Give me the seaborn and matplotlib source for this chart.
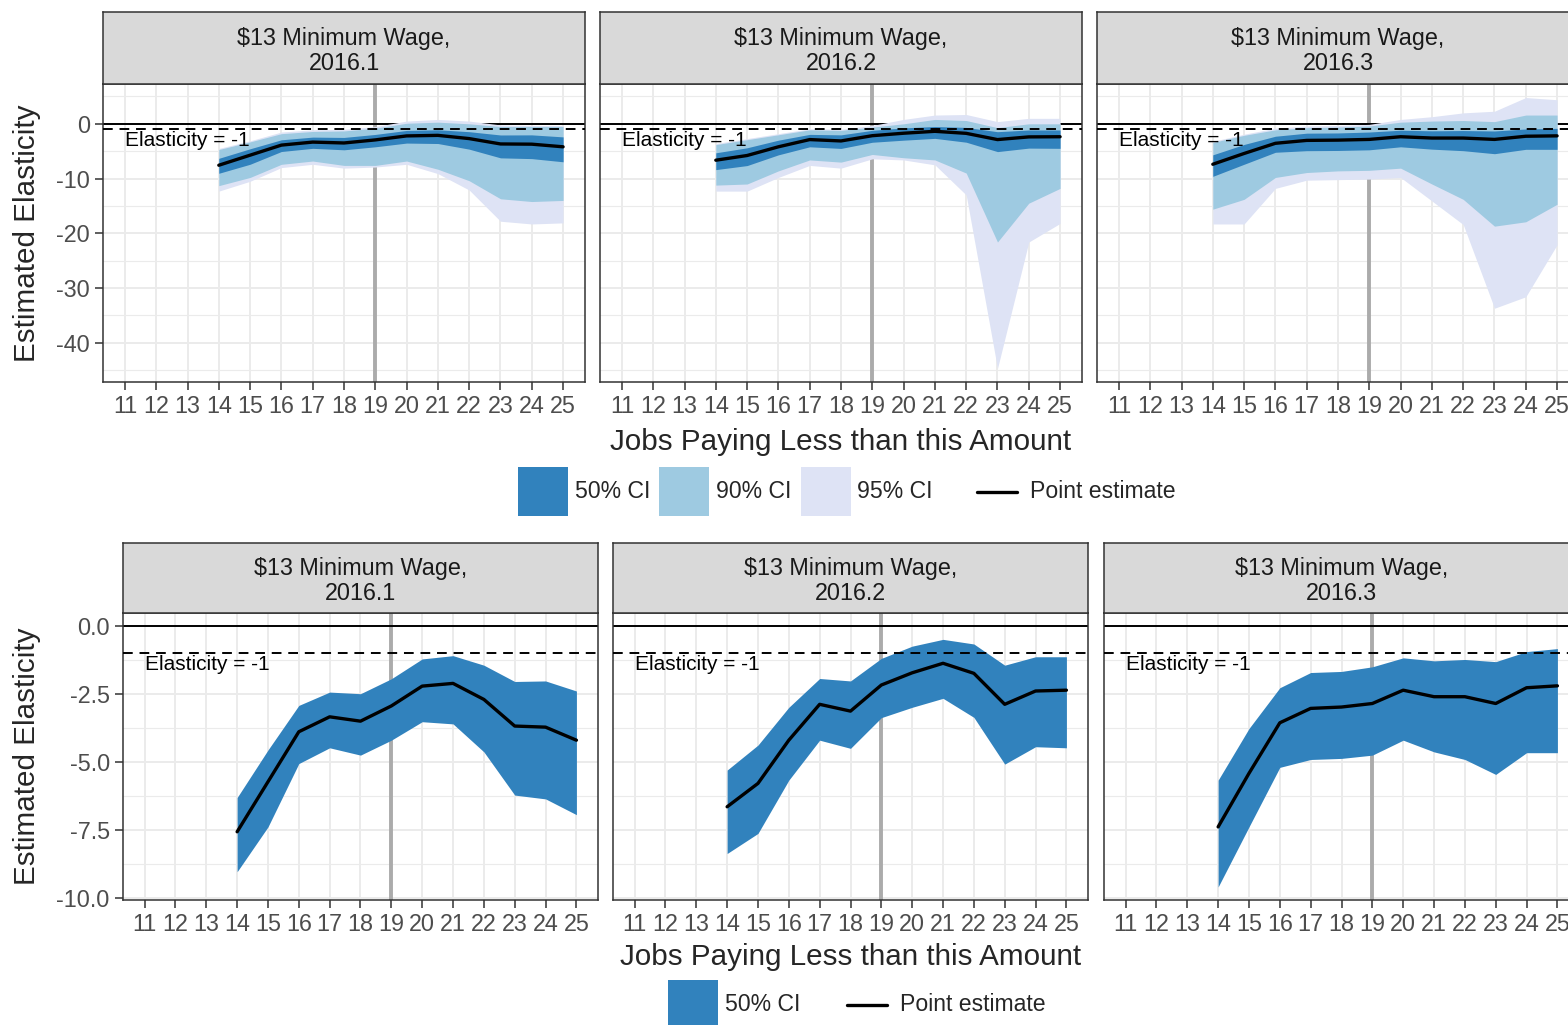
import numpy as np
import pandas as pd
import matplotlib
matplotlib.use("Agg")
import matplotlib.pyplot as plt
from matplotlib.patches import Patch
from matplotlib.lines import Line2D
from matplotlib.legend_handler import HandlerLine2D
from matplotlib.ticker import FuncFormatter
import seaborn as sns

# ---------------------------------------------------------------- data
wages = [14, 15, 16, 17, 18, 19, 20, 21, 22, 23, 24, 25]
quarters = ["2016.1", "2016.2", "2016.3"]
strip_title = "\\$13 Minimum Wage,\n{}"
x_title = "Jobs Paying Less than this Amount"
y_title = "Estimated Elasticity"
ref_label = "Elasticity = -1"
ref_value = -1
cutoff_wage = 19

est_q1 = [-7.57, -5.73, -3.89, -3.34, -3.50, -2.94, -2.21, -2.11, -2.70, -3.68, -3.72, -4.20]
lo50_q1 = [-9.04, -7.39, -5.06, -4.48, -4.75, -4.20, -3.52, -3.60, -4.63, -6.22, -6.36, -6.94]
hi50_q1 = [-6.31, -4.56, -2.92, -2.43, -2.49, -1.94, -1.21, -1.09, -1.44, -2.04, -2.02, -2.39]
lo90_q1 = [-11.3, -9.8, -7.4, -6.8, -7.6, -7.6, -6.8, -8.3, -10.4, -13.7, -14.2, -14.0]
hi90_q1 = [-4.7, -3.3, -1.8, -1.4, -1.3, -0.8, 0.1, 0.3, 0.0, -0.5, -0.5, -0.5]
lo95_q1 = [-12.3, -10.5, -8.0, -7.4, -8.1, -7.9, -7.4, -9.1, -12.1, -17.8, -18.3, -18.1]
hi95_q1 = [-4.5, -3.1, -1.5, -1.1, -1.0, -0.5, 0.5, 0.8, 0.5, -0.2, -0.3, -0.3]

est_q2 = [-6.65, -5.79, -4.20, -2.88, -3.13, -2.17, -1.72, -1.37, -1.74, -2.88, -2.39, -2.36]
lo50_q2 = [-8.37, -7.63, -5.67, -4.20, -4.50, -3.37, -2.99, -2.66, -3.36, -5.08, -4.44, -4.48]
hi50_q2 = [-5.30, -4.38, -2.99, -1.93, -2.02, -1.19, -0.74, -0.49, -0.66, -1.44, -1.13, -1.13]
lo90_q2 = [-11.2, -11.0, -8.6, -6.6, -7.0, -5.6, -6.2, -6.6, -9.0, -21.6, -14.5, -11.8]
hi90_q2 = [-3.8, -2.9, -2.0, -1.1, -1.2, -0.6, 0.0, 0.8, 0.6, -0.7, 0.0, 0.0]
lo95_q2 = [-12.3, -12.3, -9.8, -7.6, -8.1, -6.4, -6.6, -7.5, -13.0, -44.7, -21.6, -18.2]
hi95_q2 = [-3.6, -2.7, -1.8, -0.9, -1.0, -0.3, 0.8, 1.6, 1.7, 0.4, 1.0, 1.0]

est_q3 = [-7.39, -5.42, -3.56, -3.03, -2.98, -2.85, -2.36, -2.60, -2.60, -2.85, -2.27, -2.20]
lo50_q3 = [-9.60, -7.39, -5.20, -4.91, -4.87, -4.75, -4.20, -4.63, -4.91, -5.46, -4.66, -4.66]
hi50_q3 = [-5.67, -3.77, -2.27, -1.71, -1.67, -1.50, -1.17, -1.28, -1.23, -1.31, -0.94, -0.83]
lo90_q3 = [-15.6, -13.8, -9.8, -8.9, -8.6, -8.5, -8.1, -11.0, -13.8, -18.7, -17.9, -14.7]
hi90_q3 = [-3.4, -2.1, -1.1, -0.7, -0.6, -0.4, 0.3, 0.5, 0.6, 0.4, 1.6, 1.6]
lo95_q3 = [-18.3, -18.3, -11.8, -10.3, -10.2, -10.1, -9.8, -14.1, -18.4, -33.7, -31.6, -22.1]
hi95_q3 = [-3.2, -1.9, -0.8, -0.4, -0.3, -0.1, 0.8, 1.3, 2.0, 2.3, 4.8, 4.4]

frames = []
for q, cols in zip(quarters, [
        (est_q1, lo50_q1, hi50_q1, lo90_q1, hi90_q1, lo95_q1, hi95_q1),
        (est_q2, lo50_q2, hi50_q2, lo90_q2, hi90_q2, lo95_q2, hi95_q2),
        (est_q3, lo50_q3, hi50_q3, lo90_q3, hi90_q3, lo95_q3, hi95_q3)]):
    frames.append(pd.DataFrame({
        "quarter": q, "wage": wages, "est": cols[0],
        "lo50": cols[1], "hi50": cols[2], "lo90": cols[3],
        "hi90": cols[4], "lo95": cols[5], "hi95": cols[6]}))
df = pd.concat(frames, ignore_index=True)

# ---------------------------------------------------------------- style
sns.set_theme(style="whitegrid")
plt.rcParams["font.family"] = ["Liberation Sans", "DejaVu Sans"]

C50, C90, C95 = "#3182BD", "#9ECAE1", "#DEE3F5"
GRID = "#EBEBEB"
BORDER = "#333333"
TICKTXT = "#4D4D4D"
BASE = 21.3
SMALL = 16.8

W, H = 1568, 1025
fig = plt.figure(figsize=(W / 100, H / 100), dpi=100)
fig.patch.set_facecolor("white")


def box(left, top, right, bottom):
    return fig.add_axes([left / W, 1 - bottom / H, (right - left) / W, (bottom - top) / H])


def style_panel(ax):
    for s in ax.spines.values():
        s.set_visible(True)
        s.set_color(BORDER)
        s.set_linewidth(1.1)
    ax.set_facecolor("white")
    ax.set_axisbelow(True)
    ax.grid(False)
    ax.grid(which="major", color=GRID, lw=1.4)
    ax.grid(which="minor", axis="y", color=GRID, lw=0.8)
    ax.tick_params(which="major", length=6, width=1.1, color=BORDER,
                   labelcolor=TICKTXT, labelsize=SMALL, pad=3.5,
                   bottom=True, left=True)
    ax.tick_params(which="minor", length=0)


def strip(left, top, right, bottom, text):
    sa = box(left, top, right, bottom)
    sa.set_facecolor("#D9D9D9")
    sa.set_xticks([])
    sa.set_yticks([])
    sa.grid(False)
    for s in sa.spines.values():
        s.set_visible(True)
        s.set_color(BORDER)
        s.set_linewidth(1.1)
    sa.annotate(text, xy=(0.5, 0.5), xycoords="axes fraction",
                xytext=(0, -3), textcoords="offset pixels",
                ha="center", va="center", fontsize=SMALL,
                color="#1A1A1A", linespacing=1.08)


def draw_row(lefts, rights, top, bottom, strip_top, bands, major, minor, fmt):
    cols = [c for b in bands for c in (f"lo{b}", f"hi{b}")] + ["est"]
    lo = min(df[cols].min().min(), 0)
    hi = max(df[cols].max().max(), 0)
    pad = 0.05 * (hi - lo)
    axes = []
    for i, q in enumerate(quarters):
        ax = box(lefts[i], top, rights[i], bottom)
        style_panel(ax)
        d = df[df["quarter"] == q]
        ax.axvline(cutoff_wage, color="#ABABAB", lw=2.8, zorder=1)
        ax.axhline(0, color="black", lw=1.4, zorder=1.5)
        colors = {"95": C95, "90": C90, "50": C50}
        for j, b in enumerate(bands):
            ax.fill_between(d["wage"], d[f"lo{b}"], d[f"hi{b}"], color=colors[b],
                            lw=0, zorder=2 + j * 0.1)
        ax.axhline(ref_value, color="black", lw=1.4, ls=(0, (5, 3.5)), zorder=3)
        ax.annotate(ref_label, xy=(11, ref_value), xytext=(0, -11),
                    textcoords="offset pixels", ha="left", va="center",
                    fontsize=15, color="black", zorder=4)
        sns.lineplot(data=d, x="wage", y="est", ax=ax, color="black", lw=2.4,
                     errorbar=None, legend=False, zorder=5)
        ax.set_xlim(11 - 0.7, 25 + 0.7)
        ax.set_ylim(lo - pad, hi + pad)
        ax.set_xticks(range(11, 26))
        ax.set_yticks(major)
        ax.set_yticks(minor, minor=True)
        ax.yaxis.set_major_formatter(FuncFormatter(fmt))
        ax.set_xlabel("")
        ax.set_ylabel("")
        if i > 0:
            ax.tick_params(axis="y", left=False, labelleft=False)
        strip(lefts[i], strip_top, rights[i], top, strip_title.format(q))
        axes.append(ax)
    return axes


draw_row([103, 600, 1097], [585, 1082, 1579], 84, 382, 12,
         ["95", "90", "50"],
         [0, -10, -20, -30, -40], [5, -5, -15, -25, -35, -45],
         lambda v, p: f"{v:.0f}")
draw_row([123, 613, 1104], [598, 1088, 1579], 613, 900, 543,
         ["50"],
         [0, -2.5, -5, -7.5, -10], [-1.25, -3.75, -6.25, -8.75],
         lambda v, p: f"{v:.1f}")

# axis titles
fig.text(841 / W, 1 - 442 / H, x_title, ha="center", va="center", fontsize=BASE)
fig.text(851 / W, 1 - 957 / H, x_title, ha="center", va="center", fontsize=BASE)
fig.text(27 / W, 1 - 233 / H, y_title, ha="center", va="center", rotation=90, fontsize=BASE)
fig.text(27 / W, 1 - 756 / H, y_title, ha="center", va="center", rotation=90, fontsize=BASE)


# legends
class ShortLine(HandlerLine2D):
    def create_artists(self, legend, orig_handle, xdescent, ydescent,
                       width, height, fontsize, trans):
        y = height / 2 - ydescent
        ln = Line2D([-xdescent + width * 0.1, -xdescent + width * 0.9], [y, y],
                    color="black", lw=2.4)
        ln.set_transform(trans)
        return [ln]


LEG = 16.6
LEG_PX = LEG * 100 / 72
key_len = 50 / LEG_PX
# legend key height h = fs * (0.65 * handleheight + 0.245)
key_h = (49 / LEG_PX - 0.245) / 0.65


def fill_legend(labels, colors, x_px, y_px):
    handles = [Patch(facecolor=c, edgecolor="none", lw=0) for c in colors]
    fig.legend(handles, labels, loc="center left",
               bbox_to_anchor=(x_px / W, 1 - y_px / H), bbox_transform=fig.transFigure,
               ncol=len(labels), frameon=False, fontsize=LEG, borderpad=0,
               borderaxespad=0, handlelength=key_len, handleheight=key_h,
               handletextpad=0.3, columnspacing=0.39)


def line_legend(x_px, y_px):
    h = Line2D([], [], color="black", lw=2.4)
    fig.legend([h], ["Point estimate"], loc="center left",
               bbox_to_anchor=(x_px / W, 1 - y_px / H), bbox_transform=fig.transFigure,
               frameon=False, fontsize=LEG, borderpad=0, borderaxespad=0,
               handlelength=key_len, handleheight=key_h, handletextpad=0.35,
               handler_map={Line2D: ShortLine()})


fill_legend(["50% CI", "90% CI", "95% CI"], [C50, C90, C95], 518, 491.5)
line_legend(972, 491.5)
fill_legend(["50% CI"], [C50], 668, 1004.5)
line_legend(842, 1004.5)

fig.savefig("out.png", dpi=100)
